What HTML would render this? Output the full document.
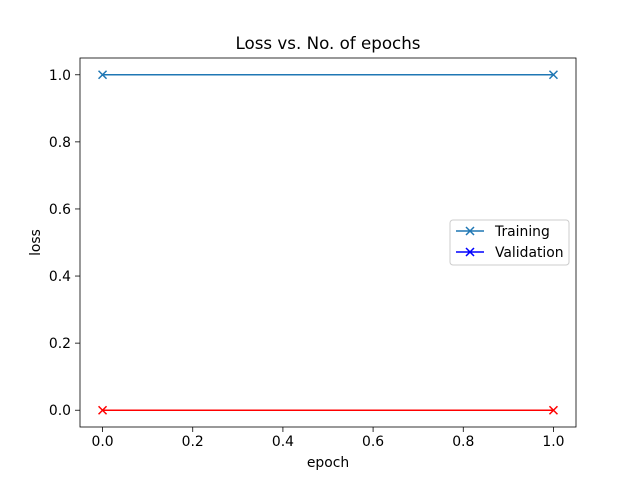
<!DOCTYPE html>
<html><head><meta charset="utf-8"><style>
body{margin:0;background:#fff}
svg text{font-family:"DejaVu Sans","Liberation Sans",sans-serif;fill:#000}
</style></head><body>
<svg width="640" height="480" xmlns="http://www.w3.org/2000/svg">
<rect width="640" height="480" fill="#fff"/>
<text x="328" y="49" font-size="16.7" text-anchor="middle">Loss vs. No. of epochs</text>
<g id="plot"></g>
<rect x="80" y="58" width="496" height="369" fill="none" stroke="#000" stroke-width="0.8"/>
<text x="328" y="467" font-size="13.9" text-anchor="middle">epoch</text>
<text transform="translate(40,242.5) rotate(-90)" font-size="13.9" text-anchor="middle">loss</text>
<g>
<rect x="450" y="220" width="119" height="45" rx="3" fill="#fff" fill-opacity="0.8" stroke="#ccc"/>
<line x1="456" y1="231" x2="484" y2="231" stroke="#1f77b4" stroke-width="1.5"/>
<path d="M466,227l8,8M474,227l-8,8" stroke="#1f77b4" stroke-width="1.5"/>
<text x="495" y="236" font-size="13.9">Training</text>
<line x1="456" y1="252" x2="484" y2="252" stroke="#0000ff" stroke-width="1.5"/>
<path d="M466,248l8,8M474,248l-8,8" stroke="#0000ff" stroke-width="1.5"/>
<text x="495" y="257" font-size="13.9">Validation</text>
</g>
</svg>
<script>
const epochs=[0,1];
const trainLoss=[1.0,1.0];
const valLoss=[0.0,0.0];
const xTicks=[0.0,0.2,0.4,0.6,0.8,1.0];
const yTicks=[0.0,0.2,0.4,0.6,0.8,1.0];
const NS="http://www.w3.org/2000/svg";
const sx=v=>80+(v+0.05)/1.1*496;
const sy=v=>427-(v+0.05)/1.1*369;
const g=document.getElementById('plot');
function mk(t,a){const e=document.createElementNS(NS,t);for(const k in a)e.setAttribute(k,a[k]);g.appendChild(e);return e;}
xTicks.forEach(t=>{
 const l=mk('line',{x1:sx(t),x2:sx(t),y1:427,y2:432,stroke:'#000','stroke-width':0.8});
 
 
 const tx=mk('text',{x:sx(t),y:446,'font-size':13.9,'text-anchor':'middle'});tx.textContent=t.toFixed(1);
 
 
});
yTicks.forEach(t=>{
 const l=mk('line',{x1:75,x2:80,y1:sy(t),y2:sy(t),stroke:'#000','stroke-width':0.8});
 
 
 const tx=mk('text',{x:71,y:sy(t)+5,'font-size':13.9,'text-anchor':'end'});tx.textContent=t.toFixed(1);
 
 
});
function series(vals,color,name){
 const p=mk('polyline',{points:epochs.map((e,i)=>sx(e)+','+sy(vals[i])).join(' '),fill:'none',stroke:color,'stroke-width':1.5});
 
 
 epochs.forEach((e,i)=>{
  const x=sx(e),y=sy(vals[i]);
  const m=mk('path',{d:`M${x-4},${y-4}l8,8M${x+4},${y-4}l-8,8`,stroke:color,'stroke-width':1.5});
  
  
 });
}
series(trainLoss,'#1f77b4','training');
series(valLoss,'#ff0000','validation');
</script>
</body></html>
